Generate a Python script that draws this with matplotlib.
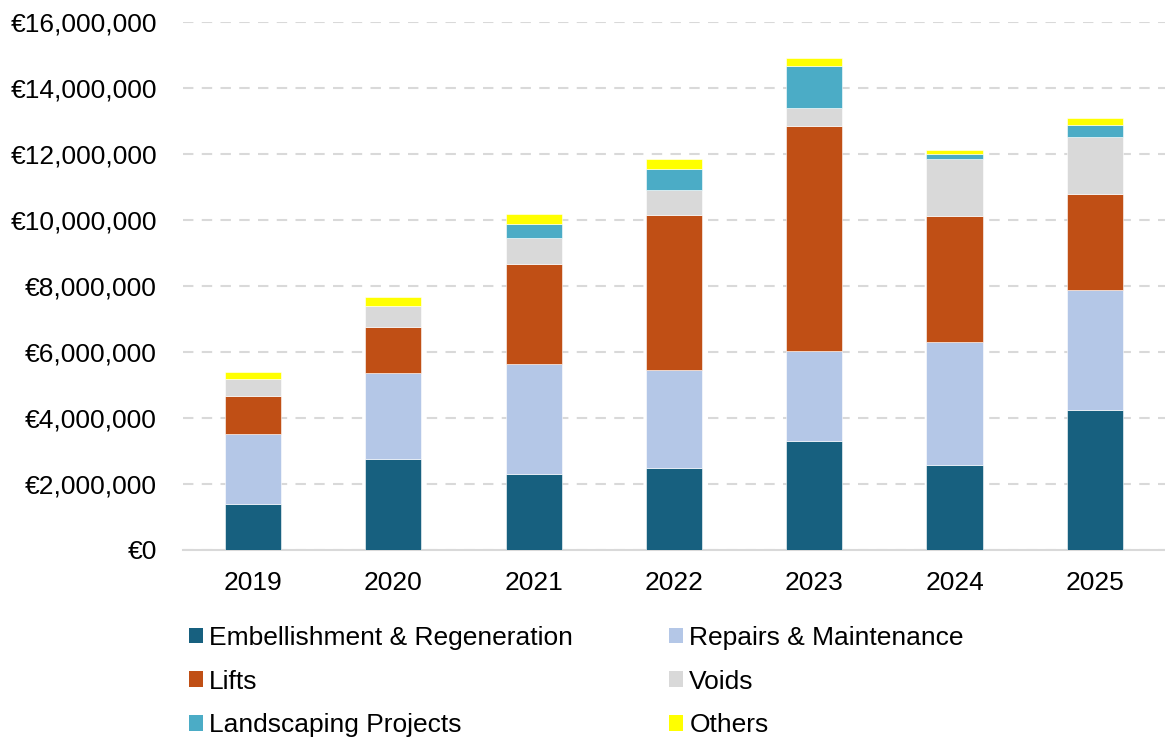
import numpy as np
from matplotlib import pyplot as plt
from matplotlib.ticker import FuncFormatter
from matplotlib.patches import Patch

plt.rcParams['font.family'] = ['Liberation Sans', 'DejaVu Sans']

years = ["2019", "2020", "2021", "2022", "2023", "2024", "2025"]

# montants (en euros)
embellishment = [1390000, 2750000, 2310000, 2490000, 3290000, 2560000, 4250000]
repairs = [2130000, 2620000, 3340000, 2960000, 2740000, 3730000, 3630000]
lifts = [1150000, 1400000, 3030000, 4710000, 6830000, 3840000, 2910000]
voids = [510000, 630000, 760000, 740000, 520000, 1730000, 1730000]
landscaping = [0, 0, 450000, 640000, 1300000, 150000, 360000]
others = [220000, 270000, 280000, 310000, 240000, 120000, 220000]

series = [
    ("Embellishment & Regeneration", embellishment, "#17607F"),
    ("Repairs & Maintenance", repairs, "#B4C7E7"),
    ("Lifts", lifts, "#C04F15"),
    ("Voids", voids, "#D9D9D9"),
    ("Landscaping Projects", landscaping, "#4BACC6"),
    ("Others", others, "#FFFF00"),
]

fig = plt.figure(figsize=(11.65, 7.4), dpi=100)
ax = fig.add_axes([0.157, 0.2568, 0.843, 0.7135])

x = np.arange(len(years))
bottom = np.zeros(len(years))
for name, vals, col in series:
    ax.bar(x, vals, 0.4, bottom=bottom, color=col, edgecolor="white",
           linewidth=0.4, label=name, zorder=3)
    bottom += np.array(vals)

ax.set_ylim(0, 16000000)
ax.set_xlim(-0.5, len(years) - 0.5)
ax.set_yticks(np.arange(0, 16000001, 2000000))
ax.yaxis.set_major_formatter(FuncFormatter(lambda v, p: "€{:,.0f}".format(v)))
ax.set_xticks(x)
ax.set_xticklabels(years)
ax.tick_params(axis="both", length=0, labelsize=19, colors="black")
ax.tick_params(axis="y", pad=18.7)
ax.tick_params(axis="x", pad=15.5)

ax.grid(axis="y", color="#D9D9D9", linestyle=(0, (5, 4)), linewidth=1.5, zorder=0)
for s in ["top", "right", "left"]:
    ax.spines[s].set_visible(False)
ax.spines["bottom"].set_color("#D9D9D9")
ax.spines["bottom"].set_linewidth(1.5)

# ordre colonne par colonne pour avoir les lignes comme dans l'original
order = [0, 2, 4, 1, 3, 5]
handles = [Patch(facecolor=series[i][2], label=series[i][0]) for i in order]
fig.legend(handles=handles, loc="upper left", bbox_to_anchor=(0.1622, 0.154),
           ncol=2, frameon=False, fontsize=19, handlelength=0.53,
           handleheight=0.53, handletextpad=0.23, columnspacing=3.65,
           labelspacing=0.74, borderaxespad=0, borderpad=0)

fig.savefig("out.png", dpi=100)
